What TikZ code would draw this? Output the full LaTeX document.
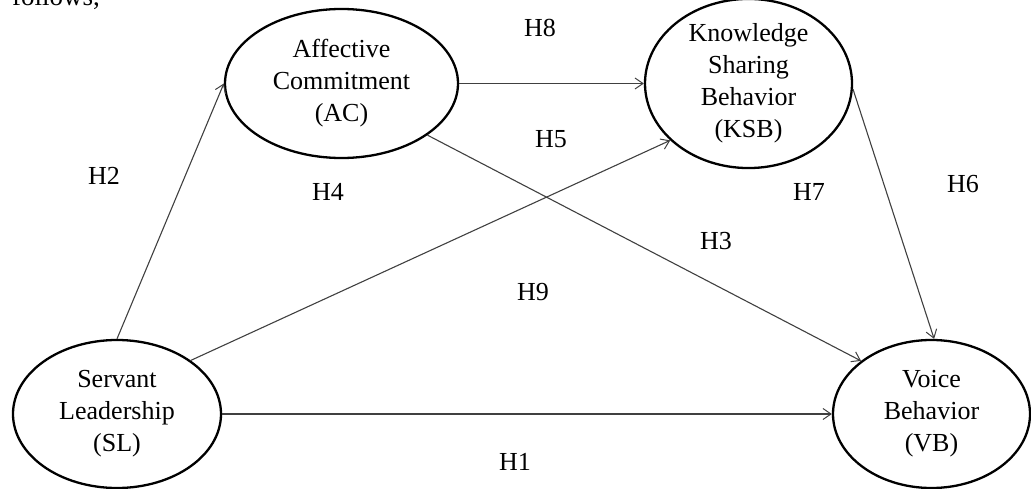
\documentclass[tikz,border=0pt]{standalone}
\usepackage{fontspec}
\setmainfont{Liberation Serif}
\usetikzlibrary{shapes.geometric,arrows.meta}
\begin{document}
\begin{tikzpicture}[x=1pt,y=-1pt,
  construct/.style={ellipse, draw=black, line width=2.3pt, inner sep=0pt, align=center,
    font=\fontsize{26}{32}\selectfont},
  hyp/.style={font=\fontsize{26}{30}\selectfont, inner sep=0pt},
  link/.style={draw=black!75, line width=1.1pt, -{Straight Barb[length=8pt,width=11pt,line width=1pt]}}]
\useasboundingbox (0,0) rectangle (1031,489);
\node[anchor=base west, inner sep=0pt, font=\fontsize{27}{30}\selectfont] (prev) at (12,6) {follows,};
\node[construct, minimum width=233pt, minimum height=149pt] (AC) at (341.5,83.5) {Affective\\Commitment\\(AC)};
\node[construct, minimum width=207pt, minimum height=148pt] (KSB) at (748.5,83.5) {Knowledge\\Sharing\\Behavior\\(KSB)};
\node[construct, minimum width=208pt, minimum height=148pt] (SL) at (117,414) {Servant\\Leadership\\(SL)};
\node[construct, minimum width=197pt, minimum height=148pt] (VB) at (931.5,414) {Voice\\Behavior\\(VB)};
\draw[link] (SL.north) -- (AC.west);
\draw[link] (SL.east) -- (VB.west);
\draw[link] (SL.36) -- (KSB.216);
\draw[link] (AC.east) -- (KSB.west);
\draw[link] (AC.-31.5) -- (VB.143);
\draw[link] (KSB.-3) -- (VB.88);
\node[hyp] (h2) at (104,176) {H2};
\node[hyp] (h8) at (540,28) {H8};
\node[hyp] (h5) at (551,139) {H5};
\node[hyp] (h4) at (328,192) {H4};
\node[hyp] (h7) at (809,192) {H7};
\node[hyp] (h6) at (963,184) {H6};
\node[hyp] (h3) at (716,241) {H3};
\node[hyp] (h9) at (533,292) {H9};
\node[hyp] (h1) at (515,462) {H1};
\end{tikzpicture}
\end{document}
